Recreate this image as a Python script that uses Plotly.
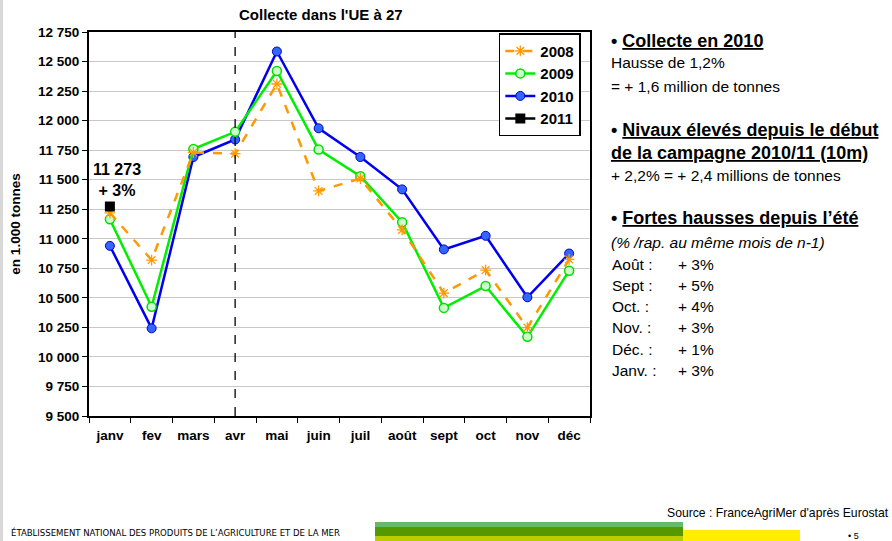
import plotly.graph_objects as go

months = ["janv", "fev", "mars", "avr", "mai", "juin", "juil", "août", "sept", "oct", "nov", "déc"]
y2008 = [11220, 10820, 11730, 11720, 12310, 11405, 11510, 11075, 10540, 10735, 10248, 10825]
y2009 = [11165, 10425, 11760, 11905, 12420, 11755, 11530, 11140, 10415, 10600, 10170, 10730]
y2010 = [10940, 10242, 11692, 11840, 12585, 11935, 11692, 11418, 10910, 11025, 10505, 10875]
m2011 = ["janv"]
y2011 = [11273]
split_month = "avr"
yticks = list(range(9500, 12751, 250))

FONT = "Arial, Liberation Sans, sans-serif"

fig = go.Figure()
fig.add_trace(go.Scatter(x=months, y=y2010, name="2010", mode="lines+markers",
                         line=dict(color="#0000ee", width=2.5),
                         marker=dict(symbol="circle", size=9, color="#3366ff", line=dict(color="#0000cc", width=1)),
                         legendrank=3))
fig.add_trace(go.Scatter(x=months, y=y2009, name="2009", mode="lines+markers",
                         line=dict(color="#00ee00", width=2.5),
                         marker=dict(symbol="circle", size=9, color="#ccffcc", line=dict(color="#00dd00", width=1.5)),
                         legendrank=2))
fig.add_trace(go.Scatter(x=months, y=y2008, name="2008", mode="lines+markers",
                         line=dict(color="#ff9900", width=2.5, dash="dash"),
                         marker=dict(symbol="asterisk-open", size=9, color="#ff9900", line=dict(color="#ff9900", width=1.3)),
                         legendrank=1))
fig.add_trace(go.Scatter(x=m2011, y=y2011, name="2011", mode="lines+markers",
                         line=dict(color="#000000", width=2.5),
                         marker=dict(symbol="square", size=10, color="#000000"),
                         legendrank=4))

fig.add_shape(type="line", xref="x", yref="paper", x0=months.index(split_month), x1=months.index(split_month),
              y0=0, y1=1, line=dict(color="#000000", width=1.3, dash="dash"))

fig.add_annotation(x=m2011[0], y=y2011[0], text="<b>11 273</b><br><b>+ 3%</b>", showarrow=False,
                   yshift=27, xshift=7, font=dict(family=FONT, size=16, color="#000"), align="center")

fig.update_layout(
    width=892, height=541,
    margin=dict(l=89, r=302, t=32, b=125),
    paper_bgcolor="white", plot_bgcolor="white",
    separators=", ",
    showlegend=True,
    legend=dict(x=0.818, y=0.997, xanchor="left", yanchor="top",
                bordercolor="#000", borderwidth=1.5, bgcolor="white",
                font=dict(family=FONT, size=15, color="#000", weight="bold"),
                tracegroupgap=0, itemwidth=30),
    font=dict(family=FONT, color="#000"),
)
fig.update_xaxes(type="category", categoryorder="array", categoryarray=months,
                 showline=True, linecolor="#000", linewidth=1.5, mirror=True,
                 ticks="outside", tickson="boundaries", ticklen=5, tickcolor="#000",
                 tickfont=dict(family=FONT, size=13.5, color="#000", weight="bold"),
                 ticklabelstandoff=6, showgrid=False, range=[-0.5, 11.5])
fig.update_yaxes(range=[9500, 12750], tickvals=yticks, tickformat=",d",
                 showline=True, linecolor="#000", linewidth=2, mirror=True,
                 ticks="outside", ticklen=5, tickcolor="#000",
                 tickfont=dict(family=FONT, size=13.5, color="#000", weight="bold"),
                 showgrid=True, gridcolor="#c8c8c8", gridwidth=1.2, zeroline=False,
                 title=dict(text="<b>en 1.000 tonnes</b>", font=dict(family=FONT, size=13.5, color="#000"), standoff=14))

# title
fig.add_annotation(xref="paper", yref="paper", x=0.463, y=1, yshift=18, xanchor="center", yanchor="middle",
                   text="<b>Collecte dans l'UE à 27</b>", showarrow=False,
                   font=dict(family=FONT, size=15, color="#000"))

def ptxt(px, py, text, size=13, anchor="left", family=FONT):
    fig.add_annotation(xref="paper", yref="paper",
                       x=(px - 89) / 501, y=(416 - py) / 384,
                       xanchor=anchor, yanchor="middle", text=text, showarrow=False,
                       font=dict(family=family, size=size, color="#000"))

HS = 18
BS = 15.5
ptxt(609, 41, "<b>• <u>Collecte en 2010</u></b>", HS)
ptxt(609, 63, "Hausse de 1,2%", BS)
ptxt(609, 86, "= + 1,6 million de tonnes", BS)
ptxt(609, 130, "<b>• <u>Nivaux élevés depuis le début</u></b>", HS)
ptxt(609, 153, "<b><u>de la campagne 2010/11 (10m)</u></b>", HS)
ptxt(609, 175, "+ 2,2% = + 2,4 millions de tonnes", BS)
ptxt(609, 218, "<b>• <u>Fortes hausses depuis l’été</u></b>", HS)
ptxt(609, 242, "<i>(% /rap. au même mois de n-1)</i>", BS)
labels = ["Août :", "Sept :", "Oct. :", "Nov. :", "Déc. :", "Janv. :"]
vals = ["+ 3%", "+ 5%", "+ 4%", "+ 3%", "+ 1%", "+ 3%"]
for i, (l, v) in enumerate(zip(labels, vals)):
    ptxt(610, 264 + i * 21.3, l, BS)
    ptxt(676, 264 + i * 21.3, v, BS)

ptxt(891, 513, "Source : FranceAgriMer d'après Eurostat", 12.2, anchor="right")
ptxt(9, 532, "ÉTABLISSEMENT NATIONAL DES PRODUITS DE L’AGRICULTURE ET DE LA MER", 9.5,
     family="Liberation Sans Narrow, DejaVu Sans Condensed, Arial Narrow, sans-serif")
ptxt(846, 536, "• 5", 9)

def rect(x0, y0, x1, y1, color):
    fig.add_shape(type="rect", xref="paper", yref="paper",
                  x0=(x0 - 89) / 501, x1=(x1 - 89) / 501,
                  y0=(416 - y1) / 384, y1=(416 - y0) / 384,
                  fillcolor=color, line=dict(width=0), layer="above")

rect(683, 530, 800, 541, "#ffee00")
rect(375, 522, 683, 527, "#66bb66")
rect(375, 527, 683, 536, "#559900")
rect(375, 536, 683, 541, "#bbcc00")
rect(0, 0, 3, 541, "#d8d8d8")

fig.write_html("out.html", config={"displayModeBar": False},
               post_script="document.body.style.margin='0';document.body.style.overflow='hidden';")
